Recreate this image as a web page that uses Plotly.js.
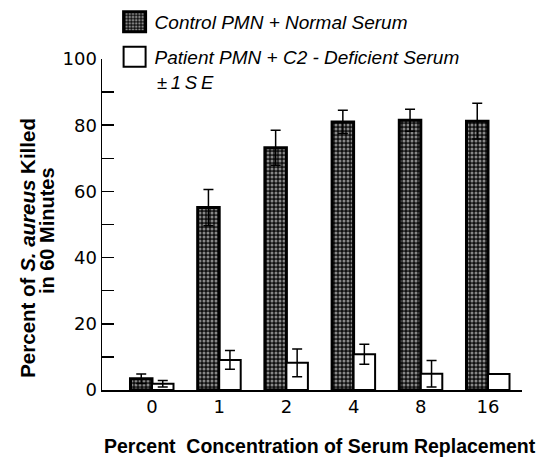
<!DOCTYPE html>
<html>
<head>
<meta charset="utf-8">
<script src="https://cdn.plot.ly/plotly-3.0.1.min.js"></script>
<style>html,body{margin:0;padding:0;background:#fff;}#chart{width:540px;height:457px;}</style>
</head>
<body>
<div id="chart"></div>
<script>
var categories = ['0', '1', '2', '4', '8', '16'];
var controlValues = [3.4, 55.1, 73.2, 81.0, 81.5, 81.2];
var controlSE = [1.4, 5.5, 5.3, 3.5, 3.3, 5.4];
var patientValues = [1.9, 9.1, 8.2, 10.8, 4.9, 4.8];
var patientSE = [1.0, 2.8, 4.2, 3.0, 4.0, 0];
var seriesNames = ['Control PMN + Normal Serum', 'Patient PMN + C2 - Deficient Serum'];

var F = 'Liberation Sans, Arial, sans-serif';
var FT = 'DejaVu Sans, sans-serif';

var control = {
  type: 'bar', x: categories, y: controlValues, name: seriesNames[0],
  legend: 'legend',
  marker: {color: '#000', line: {color: '#000', width: 3},
    pattern: {shape: '.', fgcolor: '#fff', bgcolor: '#111', size: 4, solidity: 0.45, fillmode: 'overlay'}},
  error_y: {type: 'data', array: controlSE, visible: true, color: '#000', thickness: 1.5, width: 5}
};
var patient = {
  type: 'bar', x: categories, y: patientValues, name: seriesNames[1],
  legend: 'legend2',
  marker: {color: '#fff', line: {color: '#000', width: 2}},
  error_y: {type: 'data', array: patientSE, visible: true, color: '#000', thickness: 1.5, width: 5}
};

var layout = {
  width: 540, height: 457,
  margin: {l: 102, r: 18, t: 59, b: 67, autoexpand: false},
  paper_bgcolor: '#fff', plot_bgcolor: '#fff',
  barmode: 'group', bargap: 0.36, bargroupgap: 0,
  font: {family: F, color: '#000'},
  showlegend: true,
  legend: {x: 0.03, y: 1.112, xanchor: 'left', yanchor: 'middle', bgcolor: 'rgba(0,0,0,0)',
    font: {size: 19, style: 'italic', family: F}},
  legend2: {x: 0.03, y: 1.006, xanchor: 'left', yanchor: 'middle', bgcolor: 'rgba(0,0,0,0)',
    font: {size: 19, style: 'italic', family: F}},
  xaxis: {
    type: 'category', range: [-0.744, 5.506],
    showline: true, linecolor: '#000', linewidth: 1.5,
    ticks: '', showgrid: false, zeroline: false,
    tickfont: {size: 18, family: FT}, fixedrange: true
  },
  yaxis: {
    range: [0, 100], tickvals: [0, 20, 40, 60, 80, 100],
    showline: true, linecolor: '#000', linewidth: 1.5,
    ticks: 'inside', ticklen: 12, tickwidth: 1.5, tickcolor: '#000',
    minor: {tickvals: [10, 30, 50, 70, 90], ticks: 'inside', ticklen: 12, tickwidth: 1.5, tickcolor: '#000'},
    showgrid: false, zeroline: false,
    tickfont: {size: 18, family: FT}, fixedrange: true
  },
  annotations: [
    {text: '<i>\u00b1\u20091\u2009S\u2009E</i>', xref: 'paper', yref: 'paper', x: 0.126, y: 0.93,
      xanchor: 'left', yanchor: 'middle', showarrow: false, font: {size: 18.5, family: F}},
    {text: '<b>Percent  Concentration of Serum Replacement</b>', xref: 'paper', yref: 'paper',
      x: 0.519, y: -0.17, xanchor: 'center', yanchor: 'middle', showarrow: false, font: {size: 19.5, family: F}},
    {text: '<b>Percent of <i>S. aureus</i> Killed</b>', xref: 'paper', yref: 'paper',
      x: -0.179, y: 0.429, xanchor: 'center', yanchor: 'middle', textangle: -90, showarrow: false, font: {size: 20.5, family: F}},
    {text: '<b>in 60 Minutes</b>', xref: 'paper', yref: 'paper',
      x: -0.131, y: 0.483, xanchor: 'center', yanchor: 'middle', textangle: -90, showarrow: false, font: {size: 20, family: F}}
  ]
};

Plotly.newPlot('chart', [control, patient], layout, {staticPlot: true, displayModeBar: false}).then(function () {
  document.querySelectorAll('.legendpoints path').forEach(function (p) {
    p.setAttribute('d', 'M11,10H-11V-10H11Z');
  });
});
</script>
</body>
</html>
